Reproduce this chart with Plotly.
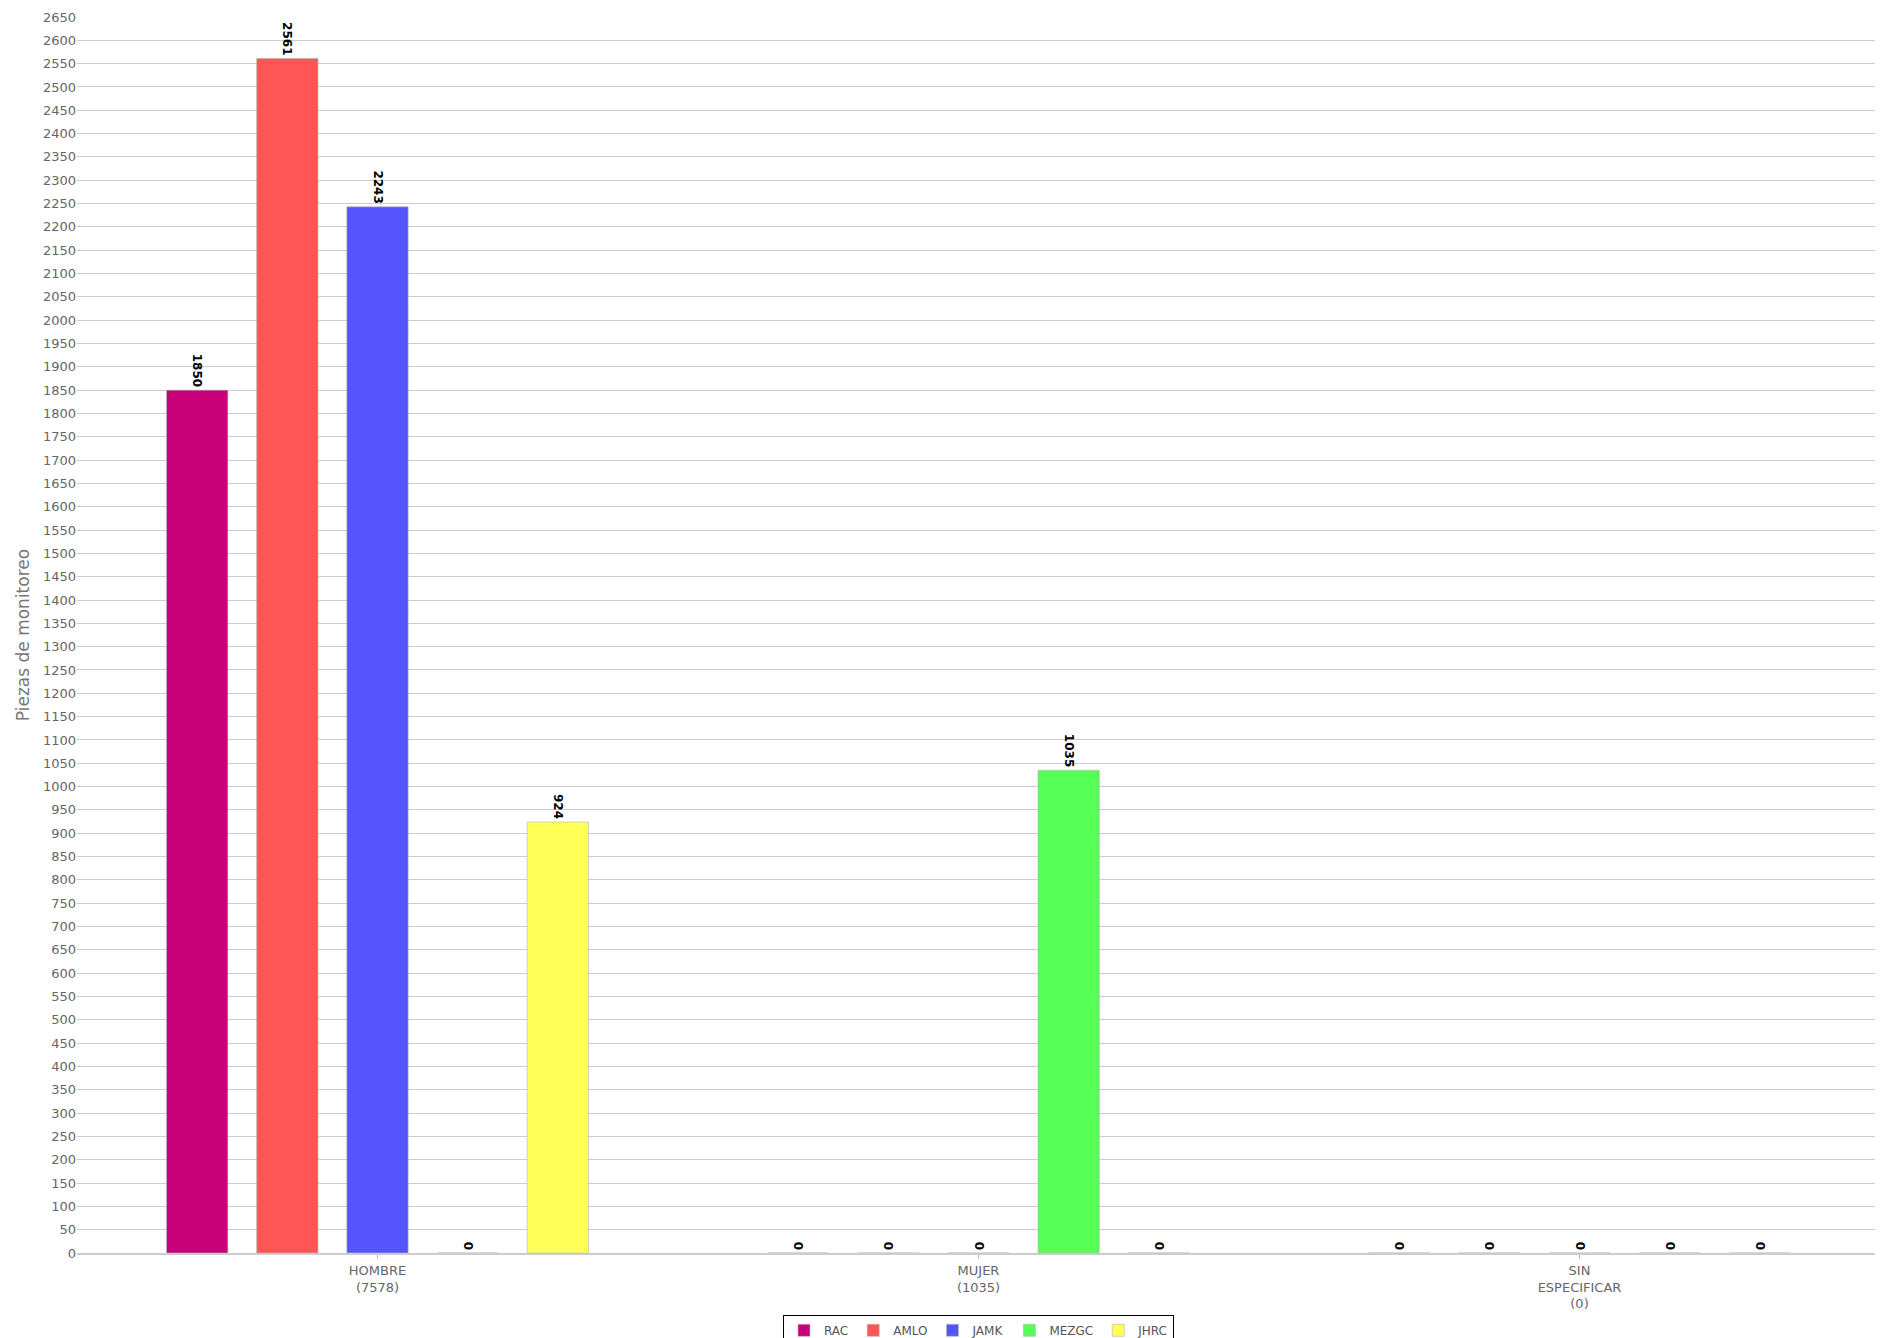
import plotly.graph_objects as go

categories = ["HOMBRE<br>(7578)", "MUJER<br>(1035)", "SIN<br>ESPECIFICAR<br>(0)"]
series_names = ["RAC", "AMLO", "JAMK", "MEZGC", "JHRC"]
rac = [1850, 0, 0]
amlo = [2561, 0, 0]
jamk = [2243, 0, 0]
mezgc = [0, 1035, 0]
jhrc = [924, 0, 0]
colors = ["#C8007A", "#FF5555", "#5555FF", "#55FF55", "#FFFF55"]
y_ticks = list(range(0, 2651, 50))

fig = go.Figure()
for name, vals, col in zip(series_names, [rac, amlo, jamk, mezgc, jhrc], colors):
    fig.add_trace(go.Bar(
        x=categories, y=vals, name=name,
        marker=dict(color=col, line=dict(color="rgba(180,180,180,0.6)", width=1)),
        text=[str(v) for v in vals], textposition="outside", textangle=90,
        textfont=dict(family="DejaVu Sans", size=12, color="black", weight="bold"),
        cliponaxis=False,
    ))

fig.update_layout(
    width=1875, height=1330,
    margin=dict(l=69, r=3, t=9, b=85, autoexpand=False),
    plot_bgcolor="white", paper_bgcolor="white",
    barmode="group", bargap=0.25, bargroupgap=0.32,
    font=dict(family="DejaVu Sans", size=13, color="#666666"),
    legend=dict(orientation="h", x=0.5, xanchor="center", y=-0.05, yanchor="top",
                bordercolor="black", borderwidth=1, font=dict(size=12, color="#555555"),
                itemwidth=30, tracegroupgap=0),
    xaxis=dict(showgrid=False, ticks="outside", ticklen=4, tickcolor="#bbbbbb",
               showline=True, linecolor="#cccccc", linewidth=2, automargin=False,
               tickfont=dict(size=13, color="#666666")),
    yaxis=dict(range=[0, 2650], tickvals=y_ticks, showgrid=True, gridcolor="#cccccc",
               gridwidth=1, zeroline=False, automargin=False, ticklabeloverflow="allow",
               tickfont=dict(size=13, color="#666666"),
               title=dict(text="Piezas de monitoreo", font=dict(size=17, color="#777777"), standoff=8)),
)
fig.write_html("out.html")
